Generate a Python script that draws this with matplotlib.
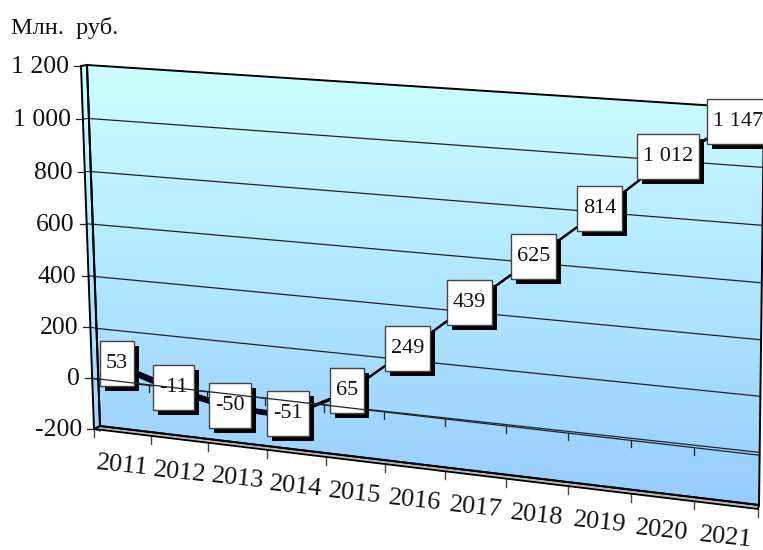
import numpy as np
import matplotlib
matplotlib.use('Agg')
import matplotlib.pyplot as plt
from matplotlib.patches import Polygon, Rectangle
from matplotlib.transforms import Transform

plt.rcParams['font.family'] = ['Liberation Serif', 'DejaVu Serif']

years = ['2011', '2012', '2013', '2014', '2015', '2016', '2017', '2018', '2019', '2020', '2021']
values = [53, -11, -50, -51, 65, 249, 439, 625, 814, 1012, 1147]
value_labels = ['53', '-11', '-50', '-51', '65', '249', '439', '625', '814', '1 012', '1 147']
y_ticks = [-200, 0, 200, 400, 600, 800, 1000, 1200]
y_labels = ['-200', '0', '200', '400', '600', '800', '1 000', '1 200']

W, H = 763, 550
N = len(years)
V0, V1 = y_ticks[0], y_ticks[-1]

# corners of the planes in pixels: low left, top left, top right, low right
BACK = [(100, 431), (87, 65), (764, 109), (759, 508)]
FRONT = [(94, 429), (81, 66), (762, 123), (758, 509)]
SERIES = [(92, 424.5), (79, 56.5), (774, 108), (768, 524)]
WALL = [(100, 426), (87, 65), (764, 109), (759, 505)]
SIDE = [(94, 429), (81, 66), (87, 65), (100, 426)]
FLOOR = [(100, 426), (759, 505), (758, 509), (94, 429)]


class Plane(Transform):
    # perspective map from (category position, value) to pixels
    input_dims = 2
    output_dims = 2

    def __init__(self, corners):
        super().__init__()
        src = [(0, V0), (0, V1), (N, V1), (N, V0)]
        A, b = [], []
        for (u, v), (x, y) in zip(src, corners):
            A.append([u, v, 1, 0, 0, 0, -u * x, -v * x])
            A.append([0, 0, 0, u, v, 1, -u * y, -v * y])
            b += [x, y]
        self.h = np.append(np.linalg.solve(np.array(A, float), np.array(b, float)), 1).reshape(3, 3)

    def transform_non_affine(self, values):
        p = np.column_stack([values, np.ones(len(values))]) @ self.h.T
        return p[:, :2] / p[:, 2:]


def shifted(corners, dx, dy):
    return [(x + dx, y + dy) for x, y in corners]


back = Plane(BACK)
front = Plane(FRONT)
series = Plane(SERIES)
rib_a = Plane(shifted(SERIES, 2, 0))
rib_b = Plane(shifted(SERIES, -2, 4))
rib_mid = Plane(shifted(SERIES, 0, 2))

fig = plt.figure(figsize=(W / 100, H / 100), dpi=100)
ax = fig.add_axes([0, 0, 1, 1])
ax.axis('off')

# gradient walls
grad = np.linspace(0, 1, 256)[:, None, None]
top = np.array([204, 255, 255]) / 255
low = np.array([150, 204, 255]) / 255
grad_img = top * (1 - grad) + low * grad
for poly in [WALL, SIDE]:
    im = ax.imshow(grad_img, extent=(0, W, 509, 65), aspect='auto', zorder=1)
    im.set_clip_path(Polygon(poly, transform=ax.transData))

# grid lines
for v in y_ticks[1:-1]:
    ax.plot([0, N], [v, v], color='#222222', lw=0.9, transform=back + ax.transData, zorder=2)
for v in y_ticks:
    a = front.transform([(0, v)])[0]
    b = back.transform([(0, v)])[0]
    ax.plot([a[0], b[0]], [a[1], b[1]], color='#222222', lw=0.8, zorder=2)
    ax.plot([a[0] - 7, a[0]], [a[1], a[1]], color='#222222', lw=0.9, zorder=2)

ax.add_patch(Polygon(FLOOR, fc='#b8b8b8', ec='black', lw=1.3, zorder=3))
ax.add_patch(Polygon(WALL, fc='none', ec='black', lw=1.4, zorder=3))
ax.add_patch(Polygon(SIDE, fc='none', ec='black', lw=1.4, zorder=3))

# the series ribbon
pos = np.arange(N) + 0.5
pts = np.column_stack([pos, values])
edge_a = rib_a.transform(pts)
edge_b = rib_b.transform(pts)
for i in range(N - 1):
    quad = [edge_a[i], edge_a[i + 1], edge_b[i + 1], edge_b[i]]
    face = '#000066' if values[i + 1] < values[i] else 'black'
    ax.add_patch(Polygon(quad, fc=face, ec='black', lw=0.8, zorder=4))
ax.plot(pos, values, color='black', lw=1.6, transform=rib_mid + ax.transData, zorder=4)

# value labels with shadow boxes
renderer = fig.canvas.get_renderer()
ax.set_xlim(0, W)
ax.set_ylim(H, 0)
for p, v, lab in zip(pos, values, value_labels):
    t = ax.text(p, v, lab, fontsize=16, ha='center', va='center', color='#111111',
                transform=series + ax.transData, zorder=7)
    cx, cy = series.transform([(p, v)])[0]
    w = t.get_window_extent(renderer).width + 12
    h = 45
    ax.add_patch(Rectangle((cx - w / 2 + 5, cy - h / 2 + 5), w, h, fc='black', ec='none', zorder=5))
    ax.add_patch(Rectangle((cx - w / 2, cy - h / 2), w, h, fc='white', ec='#444444', lw=1, zorder=6))

# category axis lines and ticks, they sit above the labels
ax.plot([0, N], [0, 0], color='#222222', lw=0.9, transform=front + ax.transData, zorder=8)
for i in range(N + 1):
    x, y = front.transform([(i, 0)])[0]
    ax.plot([x, x], [y, y + 7], color='#222222', lw=0.9, zorder=2)
    x, y = front.transform([(i, V0)])[0]
    ax.plot([x, x], [y, y + 8], color='#444444', lw=1, zorder=2)

for p, lab in zip(pos, years):
    ax.annotate(lab, (p, V0), xycoords=front + ax.transData, xytext=(0, -33),
                textcoords='offset pixels', fontsize=19, rotation=-6,
                ha='center', va='center', rotation_mode='anchor', color='#111111')

for v, lab in zip(y_ticks, y_labels):
    x, y = front.transform([(0, v)])[0]
    ax.text(x - 12, y + 1, lab, fontsize=18.5, ha='right', va='center', color='#111111')

ax.text(11, 28, 'Млн.  руб.', fontsize=17.6, ha='left', va='center', color='#111111')

ax.set_xlim(0, W)
ax.set_ylim(H, 0)
fig.savefig('out.png', dpi=100)
